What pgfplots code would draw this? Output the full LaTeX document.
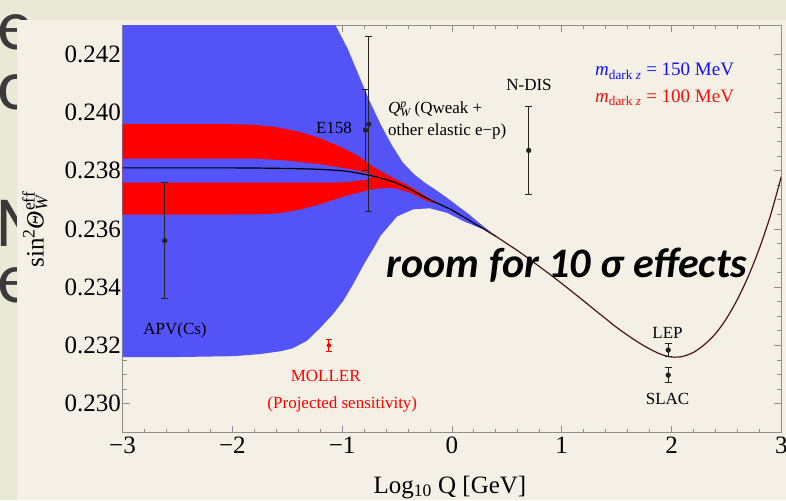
\documentclass[border=0pt]{standalone}
\usepackage{fontspec}
\setmainfont{Liberation Serif}
\newfontfamily\calibri{Carlito}
\usepackage{pgfplots}
\pgfplotsset{compat=1.18}
\definecolor{slidebg}{HTML}{EAE8D6}
\definecolor{panel}{HTML}{F5F0E6}
\definecolor{bigtext}{HTML}{3A3A3A}
\definecolor{bandblue}{HTML}{5353F8}
\definecolor{bandred}{HTML}{FF0000}
\definecolor{framegray}{HTML}{8E8E8E}
\definecolor{curvered}{HTML}{4B1419}
\definecolor{errgray}{HTML}{222222}
\definecolor{legblue}{HTML}{1010F0}
\definecolor{legred}{HTML}{F01010}
\begin{document}
\begin{tikzpicture}
\useasboundingbox (0pt,0pt) rectangle (786pt,500pt);
\fill[slidebg] (0pt,0pt) rectangle (786pt,500pt);
\begin{scope}[every node/.style={anchor=base west, inner sep=0pt, text=bigtext, font=\calibri\fontsize{72}{72}\selectfont}]
\node at (-3pt,450pt) {e};
\node at (-3pt,390pt) {o};
\node at (-5pt,253pt) {M};
\node at (-3pt,197pt) {e};
\end{scope}
\fill[panel] (17pt,0pt) rectangle (786pt,480pt);
\begin{axis}[
  at={(122.5pt,67.3pt)}, anchor=south west,
  width=658.8pt, height=407.4pt, scale only axis,
  xmin=-3, xmax=3, ymin=0.229, ymax=0.243,
  xtick={-3,-2,-1,0,1,2,3},
  xticklabels={−3,−2,−1,0,1,2,3},
  ytick={0.230,0.232,0.234,0.236,0.238,0.240,0.242},
  yticklabels={0.230,0.232,0.234,0.236,0.238,0.240,0.242},
  scaled y ticks=false,
  minor x tick num=4, minor y tick num=3,
  xtick pos=both, ytick pos=both,
  xticklabel pos=lower, yticklabel pos=left,
  tick align=inside,
  major tick length=7pt, minor tick length=4pt,
  every tick/.style={framegray, line width=0.8pt},
  axis line style={framegray, line width=0.9pt},
  ticklabel style={font=\fontsize{25}{25}\selectfont, text=black},
  yticklabel style={xshift=2pt},
  xticklabel style={yshift=-1pt},
]
% blue band (m_dark Z = 150 MeV)
\addplot[draw=none, fill=bandblue] coordinates {
(-3,0.2460) (-1.3,0.2460) (-1.2,0.2446) (-1.06,0.2430) (-0.95,0.2422) (-0.85,0.2413)
(-0.75,0.2404) (-0.65,0.2396) (-0.55,0.2389) (-0.45,0.2383) (-0.35,0.2379)
(-0.25,0.2376) (-0.15,0.23735) (-0.04,0.23706) (0.05,0.2368) (0.15,0.23652)
(0.22,0.2363) (0.30,0.23605) (0.36,0.23588)
(0.26,0.23603) (0.11,0.23626) (-0.04,0.23655) (-0.2,0.23671) (-0.35,0.23668)
(-0.5,0.23643) (-0.65,0.23577) (-0.72,0.2353) (-0.8,0.2348) (-0.9,0.2341)
(-0.99,0.23353) (-1.08,0.23309) (-1.2,0.2326) (-1.32,0.23216) (-1.45,0.2319)
(-1.56,0.2318) (-1.75,0.2317) (-1.99,0.23163) (-2.5,0.2316) (-3,0.2316)
} --cycle;
% red bands (m_dark Z = 100 MeV): outer envelope
\addplot[draw=none, fill=bandred] coordinates {
(-3,0.2396) (-2,0.2396) (-1.8,0.23958) (-1.6,0.2395) (-1.4,0.23935) (-1.2,0.23912)
(-1.0,0.2388) (-0.85,0.2385) (-0.7,0.2381) (-0.55,0.23778) (-0.4,0.2375)
(-0.3,0.23727) (-0.2,0.23703) (-0.12,0.23688)
(-0.2,0.23692) (-0.3,0.2371) (-0.4,0.23728) (-0.55,0.23742) (-0.7,0.23738)
(-0.85,0.23725) (-1.0,0.2371) (-1.2,0.23685) (-1.4,0.23665) (-1.6,0.23653)
(-1.8,0.2365) (-3,0.23649)
} --cycle;
% gap between the two red bands
\addplot[draw=none, fill=bandblue] coordinates {
(-3,0.23842) (-1.8,0.23842) (-1.5,0.23835) (-1.2,0.23822) (-1.0,0.2381)
(-0.85,0.238) (-0.7,0.23782)
(-0.8,0.23768) (-1.0,0.2376) (-1.3,0.23759) (-3,0.23759)
} --cycle;
% Standard Model running
\addplot[black, line width=1.2pt, smooth] coordinates {
(-3,0.23810) (-2,0.23810) (-1.5,0.23808) (-1.2,0.23805) (-1.0,0.23800)
(-0.9,0.23795) (-0.8,0.23788) (-0.7,0.23780) (-0.6,0.23770) (-0.5,0.23757)
(-0.4,0.23740) (-0.3,0.23720) (-0.2,0.23700) (-0.1,0.23683) (0,0.23665)
(0.1,0.23643) (0.2,0.23620) (0.3,0.23598) (0.4,0.23575)
};
\addplot[curvered, line width=1.2pt, smooth] coordinates {
(0.3,0.23598) (0.4,0.23575) (0.5,0.23550) (0.6,0.23525) (0.7,0.23498)
(0.8,0.23470) (0.9,0.23442) (1.0,0.23413) (1.1,0.23383) (1.2,0.23353)
(1.3,0.23322) (1.4,0.23292) (1.5,0.23262) (1.6,0.23235) (1.7,0.23210)
(1.8,0.23188) (1.9,0.23170) (2.0,0.23160) (2.1,0.23162) (2.2,0.23176)
(2.3,0.23203) (2.4,0.23240) (2.5,0.23292) (2.6,0.23358) (2.7,0.23438)
(2.8,0.23533) (2.9,0.23645) (3.0,0.23780)
};
% measurements
\addplot[only marks, mark=*, mark size=2.4pt, errgray,
  error bars/.cd, y dir=both, y explicit,
  error bar style={line width=1pt, errgray},
  error mark options={rotate=90, mark size=3.5pt, line width=1pt, errgray}]
coordinates {
(-2.615,0.2356) +- (0,0.0020)
(-0.787,0.2394) +- (0,0.0014)
(-0.757,0.2396) +- (0,0.0030)
(0.70,0.2387) +- (0,0.0015)
(1.97,0.23184) +- (0,0.00021)
(1.97,0.23098) +- (0,0.00025)
};
\addplot[only marks, mark=*, mark size=2pt, red,
  error bars/.cd, y dir=both, y explicit,
  error bar style={line width=1pt, red},
  error mark options={rotate=90, mark size=3pt, line width=1pt, red}]
coordinates {
(-1.12,0.2320) +- (0,0.0002)
};
% annotations
\begin{scope}[every node/.style={font=\fontsize{17}{17}\selectfont, inner sep=0pt}]
\node at (axis cs:-2.522,0.23253) {APV(Cs)};
\node at (axis cs:-1.074,0.23948) {E158};
\node[anchor=west] at (axis cs:-0.582,0.24011) {\textit{Q}\makebox[0pt][l]{\textsuperscript{\textit{p}}}\textsubscript{\textit{W}}\,(Qweak +};
\node[anchor=west] at (axis cs:-0.582,0.23937) {other elastic e−p)};
\node at (axis cs:0.702,0.24094) {N-DIS};
\node at (axis cs:1.964,0.23244) {LEP};
\node at (axis cs:1.964,0.23017) {SLAC};
\node[text=red] at (axis cs:-1.149,0.23095) {MOLLER};
\node[text=red] at (axis cs:-0.998,0.22998) {(Projected sensitivity)};
\end{scope}
\node[anchor=base west, inner sep=0pt, font=\fontsize{19}{19}\selectfont, text=legblue] at (axis cs:1.303,0.24126) {\textit{m}\textsubscript{dark \textit{z}} = 150 MeV};
\node[anchor=base west, inner sep=0pt, font=\fontsize{19}{19}\selectfont, text=legred] at (axis cs:1.303,0.24034) {\textit{m}\textsubscript{dark \textit{z}} = 100 MeV};
\node[anchor=base west, inner sep=0pt, font=\calibri\bfseries\itshape\fontsize{42}{42}\selectfont] at (axis cs:-0.594,0.23434) {room for 10 σ effects};
\end{axis}
\node[rotate=90, inner sep=0pt, font=\fontsize{25}{25}\selectfont] at (35pt,269pt) {sin\textsuperscript{2}\textit{Θ}\makebox[0pt][l]{\textsuperscript{eff}}\textsubscript{\textit{W}}\hspace{0.9em}};
\node[anchor=base, inner sep=0pt, font=\fontsize{25}{25}\selectfont] at (450pt,7pt) {Log\textsubscript{10} Q [GeV]};
\end{tikzpicture}
\end{document}
